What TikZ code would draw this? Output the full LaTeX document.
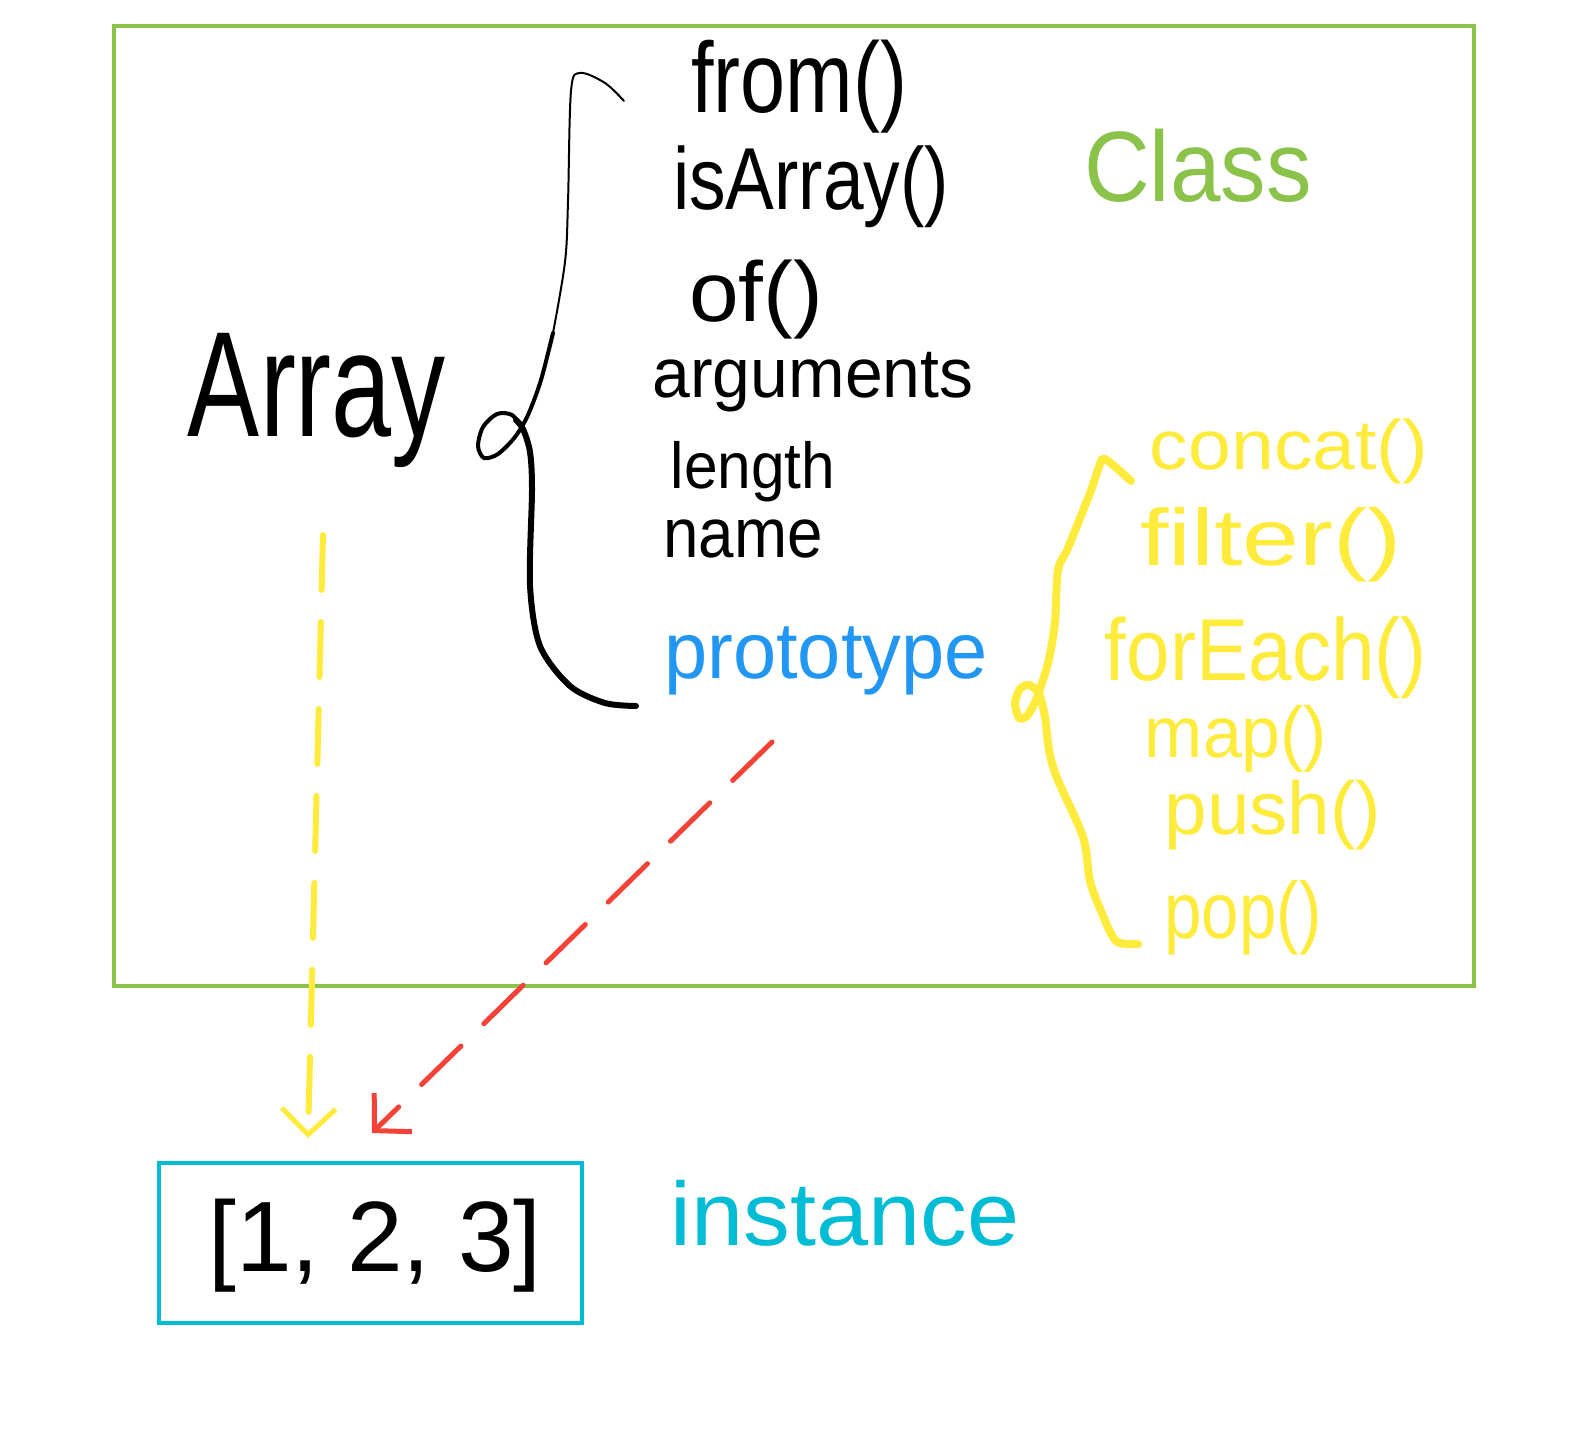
\documentclass[tikz,border=0pt]{standalone}
\usepackage{fontspec}
\setmainfont{Liberation Sans}
\usepackage{graphicx}
\usetikzlibrary{arrows.meta}
\definecolor{cgreen}{HTML}{8BC34A}
\definecolor{ccyan}{HTML}{00BCD4}
\definecolor{cyellow}{HTML}{FFEB3B}
\definecolor{cred}{HTML}{F44336}
\definecolor{cblue}{HTML}{2196F3}
\newcommand{\hw}[3]{\scalebox{#2}[1]{\fontsize{#1}{#1}\selectfont #3}}
\tikzset{
  lbl/.style={anchor=base, inner sep=0pt},
  blacktxt/.style={lbl, text=black},
  yellowtxt/.style={lbl, text=cyellow},
  frame/.style={draw=#1, line width=4pt, inner sep=0pt},
  bracestroke/.style={line width=#1, line cap=round, line join=round},
  dasharrow/.style={draw=#1, line width=6pt, line cap=round, dash pattern=on 55pt off 32pt,
    -{Straight Barb[length=26pt, width=54pt, line width=5pt]}}
}
\begin{document}
\begin{tikzpicture}[x=1pt, y=-1pt]
\useasboundingbox[fill=white] (0,0) rectangle (1582,1431);

% frames
\node[frame=cgreen, minimum width=1360pt, minimum height=960pt] (classbox) at (794,506) {};
\node[frame=ccyan, minimum width=423pt, minimum height=160pt] (instbox) at (370.5,1243) {};

% labels
\node[blacktxt] (array) at (317,436) {\hw{150}{0.72}{Array}};
\node[lbl, text=cgreen] (class) at (1198,202) {\hw{100}{0.91}{Class}};

\node[blacktxt] (from) at (799,113) {\hw{100}{0.81}{from()}};
\node[blacktxt] (isarray) at (811,210) {\hw{88}{0.83}{isArray()}};
\node[blacktxt] (of) at (756,321) {\hw{85}{1.05}{of()}};
\node[blacktxt] (arguments) at (813,397) {\hw{70}{0.97}{arguments}};
\node[blacktxt] (length) at (753,488) {\hw{65}{0.93}{length}};
\node[blacktxt] (name) at (743,557) {\hw{70}{0.91}{name}};
\node[lbl, text=cblue] (proto) at (826,678) {\hw{80}{0.97}{prototype}};

\node[yellowtxt] (concat) at (1289,469) {\hw{70}{1.10}{concat()}};
\node[yellowtxt] (filter) at (1271,565) {\hw{80}{1.28}{filter()}};
\node[yellowtxt] (foreach) at (1266,680) {\hw{88}{0.89}{forEach()}};
\node[yellowtxt] (map) at (1236,757) {\hw{72}{0.97}{map()}};
\node[yellowtxt] (push) at (1273,834) {\hw{75}{1.02}{push()}};
\node[yellowtxt] (pop) at (1243,938) {\hw{80}{0.84}{pop()}};

\node[blacktxt] (values) at (375,1271) {\hw{100}{1.0}{[1, 2, 3]}};
\node[lbl, text=ccyan] (instance) at (845,1245) {\hw{90}{1.04}{instance}};

% black brace (thin upper part, thicker lower part)
\draw[bracestroke=2pt, black] plot[smooth, tension=0.55] coordinates {
  (624,101) (605,83) (580,73) (571,91) (568,202) (565,262) (553,333)};
\draw[bracestroke=4pt, black] plot[smooth, tension=0.5] coordinates {
  (553,333) (541,380) (528,415) (515,437) (498,454) (484,458) (478,446)
  (483,427) (497,414) (512,415) (523,429)};
\draw[bracestroke=6pt, black] plot[smooth, tension=0.5] coordinates {
  (516,420) (523,429) (530,452) (532,490)
  (530,585) (540,646) (570,686) (605,703) (636,706)};

% yellow brace
\draw[bracestroke=8pt, cyellow] plot[smooth, tension=0.5] coordinates {
  (1131,481) (1105,459) (1099,467) (1090,493) (1068,548) (1058,570) (1055,622)
  (1049,659) (1042,683) (1035,702) (1027,716) (1019,718) (1015,703) (1020,689)
  (1029,685) (1039,694) (1045,717) (1049,750) (1057,778) (1083,837)
  (1090,881) (1101,911) (1116,941) (1138,944)};

% arrows
\coordinate (ystart) at (323,535);
\coordinate (yend) at (308,1138);
\coordinate (rstart) at (772,742);
\coordinate (rend) at (372,1133);
\draw[dasharrow=cyellow] (ystart) -- (yend);
\draw[dasharrow=cred, line width=5pt] (rstart) -- (rend);
\end{tikzpicture}
\end{document}
